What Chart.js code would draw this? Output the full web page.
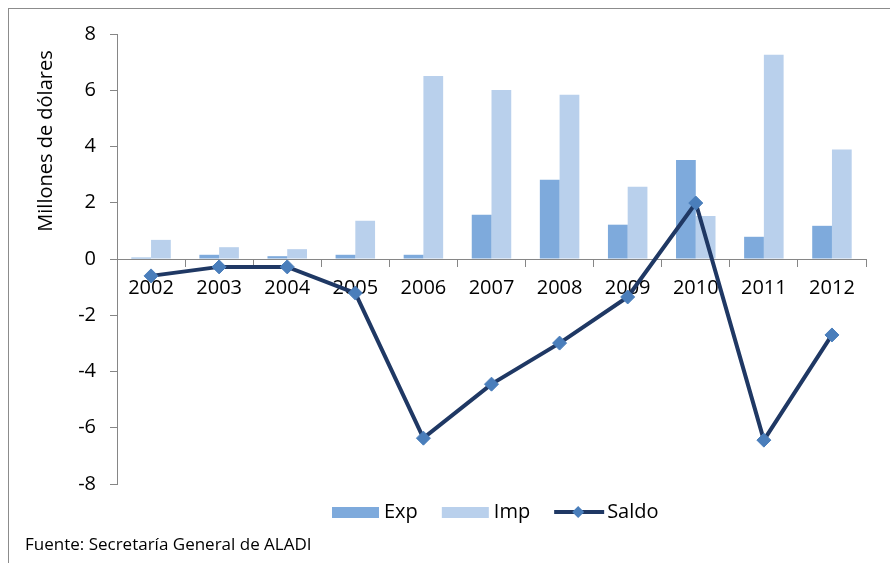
<!DOCTYPE html>
<html>
<head>
<meta charset="utf-8">
<script src="https://cdn.jsdelivr.net/npm/chart.js@4/dist/chart.umd.min.js"></script>
<style>
  html, body { margin: 0; padding: 0; background: #fff; }
  #wrap { position: relative; width: 890px; height: 563px; overflow: hidden; }
  #frame { position: absolute; left: 8px; top: 8px; width: 900px; height: 600px; border: 1px solid #8c8c8c; box-sizing: border-box; }
  canvas { position: absolute; left: 0; top: 0; }
</style>
</head>
<body>
<div id="wrap">
  <div id="frame"></div>
  <canvas id="chart" width="890" height="563"></canvas>
</div>
<script>
// data
const years = ['2002', '2003', '2004', '2005', '2006', '2007', '2008', '2009', '2010', '2011', '2012'];
const exportsVals = [0.05, 0.15, 0.1, 0.15, 0.15, 1.57, 2.82, 1.22, 3.52, 0.79, 1.18];
const importsVals = [0.68, 0.42, 0.35, 1.36, 6.51, 6.01, 5.84, 2.57, 1.53, 7.26, 3.89];
const saldoVals = [-0.6, -0.28, -0.28, -1.21, -6.37, -4.45, -2.99, -1.35, 1.99, -6.44, -2.7];
const yTitle = 'Millones de dólares';
const sourceNote = 'Fuente: Secretaría General de ALADI';

const FONT = '"Open Sans", "DejaVu Sans", sans-serif';
const expColor = '#7eaadc';
const impColor = '#b9d0ec';
const lineColor = '#1f3864';
const markerColor = '#4a7ebb';
const axisColor = '#868686';

// draws y title, legend and the source line
const extras = {
  id: 'extras',
  afterDraw(chart) {
    const ctx = chart.ctx;
    ctx.save();
    ctx.fillStyle = '#000';
    ctx.font = '20px ' + FONT;
    ctx.textBaseline = 'middle';

    // y axis title
    ctx.save();
    ctx.translate(46, 141);
    ctx.rotate(-Math.PI / 2);
    ctx.textAlign = 'center';
    ctx.fillText(yTitle, 0, 0);
    ctx.restore();

    // legend
    const ly = 512;
    let x = 332;
    ctx.textAlign = 'left';
    chart.data.datasets.forEach(ds => {
      if (ds.type === 'line') {
        ctx.strokeStyle = ds.borderColor;
        ctx.lineWidth = 4;
        ctx.beginPath();
        ctx.moveTo(x, ly);
        ctx.lineTo(x + 50, ly);
        ctx.stroke();
        ctx.fillStyle = ds.pointBackgroundColor;
        ctx.beginPath();
        ctx.moveTo(x + 24, ly - 6);
        ctx.lineTo(x + 30, ly);
        ctx.lineTo(x + 24, ly + 6);
        ctx.lineTo(x + 18, ly);
        ctx.closePath();
        ctx.fill();
        x += 53;
      } else {
        ctx.fillStyle = ds.backgroundColor;
        ctx.fillRect(x, ly - 5, 47, 11);
        x += 52;
      }
      ctx.fillStyle = '#000';
      ctx.fillText(ds.label, x, ly);
      x += ctx.measureText(ds.label).width + 24;
    });

    // source
    ctx.font = '17px ' + FONT;
    ctx.fillText(sourceNote, 25, 545);
    ctx.restore();
  }
};

new Chart(document.getElementById('chart'), {
  type: 'bar',
  data: {
    labels: years,
    datasets: [
      {
        label: 'Exp',
        data: exportsVals,
        backgroundColor: expColor,
        categoryPercentage: 0.58,
        barPercentage: 1.0,
        order: 2
      },
      {
        label: 'Imp',
        data: importsVals,
        backgroundColor: impColor,
        categoryPercentage: 0.58,
        barPercentage: 1.0,
        order: 3
      },
      {
        type: 'line',
        label: 'Saldo',
        data: saldoVals,
        borderColor: lineColor,
        borderWidth: 4,
        pointStyle: 'rectRot',
        pointRadius: 7,
        pointBackgroundColor: markerColor,
        pointBorderColor: markerColor,
        pointBorderWidth: 1,
        tension: 0,
        order: 1
      }
    ]
  },
  options: {
    responsive: false,
    animation: false,
    events: [],
    layout: { padding: { left: 0, top: 34, right: 24, bottom: 79 } },
    plugins: {
      legend: { display: false },
      tooltip: { enabled: false }
    },
    scales: {
      x: {
        position: { y: 0 },
        offset: true,
        grid: {
          offset: true,
          drawOnChartArea: false,
          drawTicks: true,
          tickLength: 7,
          color: axisColor
        },
        border: { color: axisColor, width: 1 },
        ticks: {
          color: '#000',
          font: { family: FONT, size: 20 },
          padding: 10,
          maxRotation: 0
        }
      },
      y: {
        min: -8,
        max: 8,
        afterFit(scale) { scale.width = 117; },
        grid: {
          drawOnChartArea: false,
          drawTicks: true,
          tickLength: 7,
          color: axisColor
        },
        border: { color: axisColor, width: 1 },
        ticks: {
          stepSize: 2,
          color: '#000',
          font: { family: FONT, size: 20 },
          padding: 14
        }
      }
    }
  },
  plugins: [extras]
});
</script>
</body>
</html>
